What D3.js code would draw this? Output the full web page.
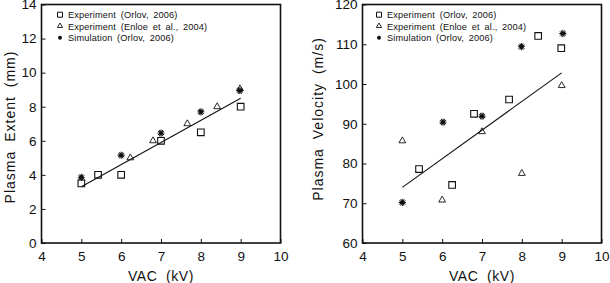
<!DOCTYPE html>
<html><head><meta charset="utf-8">
<script src="https://cdn.jsdelivr.net/npm/d3@7"></script>
<style>
body{margin:0;background:#fff;}
text{font-family:"Liberation Sans",Arial,sans-serif;fill:#111;}
</style></head>
<body><svg id="c" width="610" height="283"></svg>
<script>
// ---- data ----
const xTicks = [4,5,6,7,8,9,10];
const extentTicks = [0,2,4,6,8,10,12,14];
const velocityTicks = [60,70,80,90,100,110,120];
const legendLabels = ["Experiment (Orlov, 2006)","Experiment (Enloe et al., 2004)","Simulation (Orlov, 2006)"];

const extOrlovX = [5, 5.42, 6, 7, 8, 9];
const extOrlovY = [3.5, 4.0, 4.0, 6.0, 6.5, 8.0];
const extEnloeX = [6.23, 6.8, 7.66, 8.41, 8.98];
const extEnloeY = [5.0, 6.0, 7.0, 8.0, 9.05];
const extSimX = [5, 6, 7, 8, 8.98];
const extSimY = [3.85, 5.15, 6.45, 7.7, 8.95];
const extFitX = [5, 9];
const extFitY = [3.3, 8.5];

const velOrlovX = [5.42, 6.25, 6.8, 7.68, 8.41, 8.99];
const velOrlovY = [78.6, 74.6, 92.5, 96.1, 112.1, 109.0];
const velEnloeX = [5, 6, 7, 8, 9];
const velEnloeY = [85.7, 70.8, 88.0, 77.5, 99.6];
const velSimX = [5, 6.02, 7, 7.99, 9.03];
const velSimY = [70.2, 90.4, 91.9, 109.4, 112.7];
const velFitX = [5, 9];
const velFitY = [74.0, 102.8];

const svg = d3.select("#c");

function panel(o){
  const g = svg.append("g");
  const x = d3.scaleLinear().domain([4,10]).range([o.left, o.right]);
  const y = d3.scaleLinear().domain(o.yDomain).range([243, 4.5]);
  // ticks inside
  const ax = g.append("g").attr("transform","translate(0,243)")
    .call(d3.axisBottom(x).tickValues(xTicks).tickSize(-4).tickPadding(8).tickFormat(d3.format("d")));
  const ay = g.append("g").attr("transform",`translate(${o.left},0)`)
    .call(d3.axisLeft(y).tickValues(o.yTicks).tickSize(-4).tickPadding(5).tickFormat(d3.format("d")));
  [ax,ay].forEach(a=>{
    a.select(".domain").remove();
    a.selectAll("line").attr("stroke","#111").attr("stroke-width",1);
    a.selectAll("text").attr("font-size","13.5px").attr("fill","#111")
      .attr("font-family",'"Liberation Sans",Arial,sans-serif');
  });
  g.append("rect").attr("x",o.left).attr("y",4.5).attr("width",o.right-o.left).attr("height",243-4.5)
    .attr("fill","none").attr("stroke","#111").attr("stroke-width",1.6);
  // axis titles
  g.append("text").attr("x",(o.left+o.right)/2).attr("y",281).attr("text-anchor","middle")
    .attr("font-size","14px").attr("letter-spacing","0.6px").attr("word-spacing","4px").text("VAC (kV)");
  g.append("text").attr("transform",`translate(${o.titleX},${o.titleY}) rotate(-90)`)
    .attr("text-anchor","middle").attr("font-size","14px").attr("letter-spacing","1px").attr("word-spacing","4px")
    .text(o.yTitle);
  // fit line
  const fit = o.fitX.map((v,i)=>[v,o.fitY[i]]);
  g.append("path").attr("d", d3.line().x(d=>x(d[0])).y(d=>y(d[1]))(fit))
    .attr("stroke","#111").attr("stroke-width",1.1).attr("fill","none");
  // markers
  const sq = d3.symbol().type(d3.symbolSquare).size(44);
  const tri = d3.symbol().type(d3.symbolTriangle).size(20);
  g.selectAll(".sq").data(o.orX.map((v,i)=>[v,o.orY[i]])).join("path")
    .attr("transform",d=>`translate(${x(d[0])},${y(d[1])})`).attr("d",sq)
    .attr("fill","none").attr("stroke","#111").attr("stroke-width",1.1);
  g.selectAll(".tr").data(o.enX.map((v,i)=>[v,o.enY[i]])).join("path")
    .attr("transform",d=>`translate(${x(d[0])},${y(d[1])})`).attr("d",tri)
    .attr("fill","none").attr("stroke","#111").attr("stroke-width",0.9);
  const star = (sel)=>{
    sel.append("circle").attr("r",2.1).attr("fill","#111");
    sel.append("path").attr("d",d3.symbol().type(d3.symbolAsterisk).size(36)).attr("stroke","#111").attr("stroke-width",1).attr("fill","none");
    sel.append("path").attr("d",d3.symbol().type(d3.symbolAsterisk).size(36)).attr("transform","rotate(30)").attr("stroke","#111").attr("stroke-width",0.9).attr("fill","none");
  };
  g.selectAll(".st").data(o.siX.map((v,i)=>[v,o.siY[i]])).join("g")
    .attr("transform",d=>`translate(${x(d[0])},${y(d[1])})`).call(star);
  // legend
  const lg = g.append("g");
  const rows = [14.7, 26, 37.7];
  lg.append("path").attr("transform",`translate(${o.legX},${rows[0]})`).attr("d",d3.symbol().type(d3.symbolSquare).size(25))
    .attr("fill","none").attr("stroke","#111").attr("stroke-width",1);
  lg.append("path").attr("transform",`translate(${o.legX},${rows[1]})`).attr("d",d3.symbol().type(d3.symbolTriangle).size(12))
    .attr("fill","none").attr("stroke","#111").attr("stroke-width",0.9);
  lg.append("circle").attr("cx",o.legX).attr("cy",rows[2]).attr("r",2).attr("fill","#111");
  legendLabels.forEach((t,i)=>{
    lg.append("text").attr("x",o.legX+8).attr("y",rows[i]+3.5).attr("font-size","9.2px")
      .attr("font-family",'"DejaVu Sans",sans-serif')
      .attr("letter-spacing","0.15px").attr("word-spacing","2px").text(t);
  });
}

panel({left:41.5,right:280.5,yDomain:[0,14],yTicks:extentTicks,yTitle:"Plasma Extent (mm)",titleX:15,titleY:127,
  orX:extOrlovX,orY:extOrlovY,enX:extEnloeX,enY:extEnloeY,siX:extSimX,siY:extSimY,fitX:extFitX,fitY:extFitY,legX:60});
panel({left:362.5,right:601.5,yDomain:[60,120],yTicks:velocityTicks,yTitle:"Plasma Velocity (m/s)",titleX:323,titleY:119,
  orX:velOrlovX,orY:velOrlovY,enX:velEnloeX,enY:velEnloeY,siX:velSimX,siY:velSimY,fitX:velFitX,fitY:velFitY,legX:379});
</script></body></html>
